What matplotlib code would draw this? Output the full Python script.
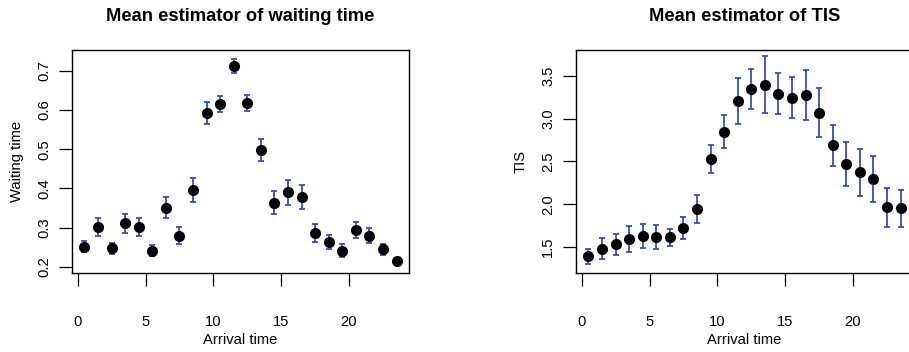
import matplotlib
matplotlib.use('Agg')
import matplotlib.pyplot as plt
import numpy as np

plt.rcParams['font.family'] = ['Liberation Sans', 'DejaVu Sans']

# arrival time bins (mid points)
arrival = [i + 0.5 for i in range(24)]

wait_mean = [0.252, 0.302, 0.248, 0.311, 0.301, 0.242, 0.351, 0.280,
             0.396, 0.592, 0.615, 0.711, 0.617, 0.499, 0.364, 0.390,
             0.379, 0.286, 0.264, 0.242, 0.295, 0.280, 0.245, 0.214]
wait_err = [0.014, 0.024, 0.014, 0.024, 0.023, 0.015, 0.027, 0.022,
            0.031, 0.029, 0.021, 0.018, 0.020, 0.028, 0.029, 0.031,
            0.031, 0.023, 0.018, 0.017, 0.020, 0.019, 0.014, 0.004]

tis_mean = [1.391, 1.481, 1.531, 1.593, 1.632, 1.617, 1.613, 1.726,
            1.944, 2.531, 2.850, 3.208, 3.348, 3.399, 3.294, 3.247,
            3.278, 3.072, 2.687, 2.465, 2.372, 2.294, 1.963, 1.951]
tis_err = [0.090, 0.120, 0.125, 0.148, 0.142, 0.136, 0.103, 0.130,
           0.163, 0.165, 0.195, 0.268, 0.230, 0.335, 0.240, 0.235,
           0.294, 0.284, 0.245, 0.257, 0.278, 0.270, 0.226, 0.220]

xticks = [0, 5, 10, 15, 20]
wait_ticks = [0.2, 0.3, 0.4, 0.5, 0.6, 0.7]
tis_ticks = [1.5, 2.0, 2.5, 3.0, 3.5]

BLUE = '#3552b0'

fig = plt.figure(figsize=(9.09, 3.52), dpi=100)
W, H = 909, 352


def panel(left, mean, err, yticks, ylim, ylabel, title):
    ax = fig.add_axes([left / W, 79 / H, 337 / W, 223 / H])
    ax.errorbar(arrival, mean, yerr=err, fmt='none', ecolor=BLUE,
                elinewidth=1.3, capsize=2.3, capthick=1.3)
    ax.plot(arrival, mean, 'o', color='black', markersize=7)
    ax.set_xlim(-0.42, 24.42)
    ax.set_ylim(*ylim)
    ax.set_xticks(xticks)
    ax.set_yticks(yticks)
    ax.set_yticklabels(['%.1f' % t for t in yticks], rotation=90, va='center')
    ax.tick_params(axis='both', length=9.4, width=0.9, labelsize=10.6)
    ax.tick_params(axis='x', pad=21)
    ax.tick_params(axis='y', pad=5.5)
    for s in ax.spines.values():
        s.set_linewidth(1.0)
    ax.set_xlabel('Arrival time', fontsize=10.6, va='center')
    ax.xaxis.set_label_coords(0.5, -0.300)
    ax.set_ylabel(ylabel, fontsize=10.6, va='center')
    ax.yaxis.set_label_coords(-0.163, 0.5)
    ax.text(0.5, 1.152, title, transform=ax.transAxes, ha='center',
            va='center', fontsize=13.2, fontweight='bold')
    return ax


panel(72, wait_mean, wait_err, wait_ticks, (0.1847, 0.7527),
      'Waiting time', 'Mean estimator of waiting time')
panel(576, tis_mean, tis_err, tis_ticks, (1.196, 3.803),
      'TIS', 'Mean estimator of TIS')

fig.savefig('out.png', dpi=100)
